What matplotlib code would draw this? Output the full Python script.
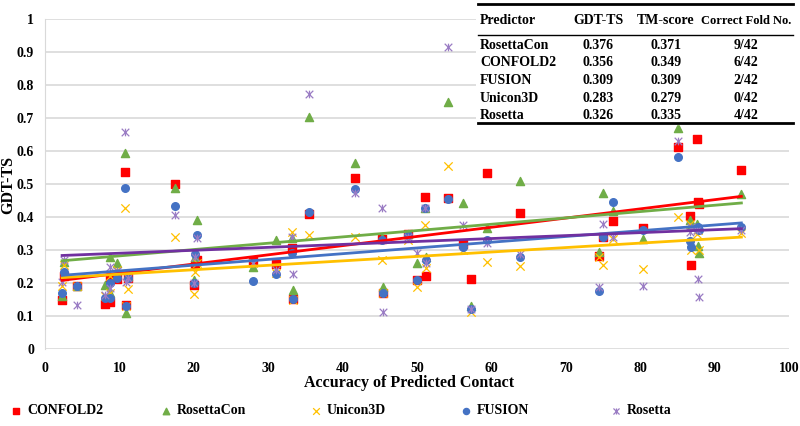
import numpy as np
import matplotlib
matplotlib.use("Agg")
import matplotlib.pyplot as plt
from matplotlib.path import Path

plt.rcParams['font.family'] = ['Liberation Serif', 'DejaVu Serif']
plt.rcParams['font.weight'] = 'bold'

# accuracy of predicted contact (%), one value per target protein
accuracy = [2.3, 2.5, 4.3, 8.0, 8.7, 8.8, 9.7, 10.8, 10.9, 11.2,
            17.5, 20.0, 20.1, 20.4, 27.9, 31.0, 33.2, 33.3, 35.5, 41.7,
            45.3, 45.4, 48.8, 50.0, 51.1, 51.2, 54.1, 56.2, 57.3, 59.4,
            63.9, 74.4, 75.0, 76.4, 80.4, 85.1, 86.7, 86.8, 87.7, 87.8,
            87.9, 93.6]

confold2 = [0.148, 0.222, 0.19, 0.137, 0.215, 0.143, 0.212, 0.535, 0.132, 0.214,
            0.50, 0.194, 0.255, 0.27, 0.268, 0.259, 0.305, 0.152, 0.41, 0.519,
            0.332, 0.169, 0.35, 0.209, 0.462, 0.22, 0.459, 0.317, 0.211, 0.532,
            0.411, 0.282, 0.338, 0.389, 0.366, 0.613, 0.403, 0.255, 0.636, 0.446,
            0.44, 0.542]
rosettacon = [0.16, 0.265, 0.192, 0.194, 0.279, 0.17, 0.26, 0.595, 0.108, 0.22,
              0.487, 0.209, 0.279, 0.391, 0.25, 0.33, 0.335, 0.179, 0.704, 0.565,
              0.335, 0.187, 0.35, 0.26, 0.428, 0.278, 0.749, 0.441, 0.13, 0.366,
              0.51, 0.295, 0.474, 0.419, 0.332, 0.671, 0.391, 0.375, 0.38, 0.312,
              0.292, 0.47]
unicon3d = [0.19, 0.255, 0.19, 0.16, 0.22, 0.17, 0.24, 0.427, 0.13, 0.181,
            0.34, 0.167, 0.232, 0.261, 0.26, 0.23, 0.355, 0.15, 0.345, 0.34,
            0.27, 0.17, 0.33, 0.189, 0.377, 0.245, 0.555, 0.3, 0.113, 0.265,
            0.252, 0.28, 0.256, 0.332, 0.241, 0.40, 0.38, 0.3, 0.35, 0.36,
            0.3, 0.353]
fusion = [0.171, 0.234, 0.19, 0.154, 0.2, 0.154, 0.215, 0.487, 0.13, 0.215,
          0.434, 0.2, 0.288, 0.345, 0.207, 0.227, 0.29, 0.152, 0.416, 0.484,
          0.33, 0.17, 0.345, 0.209, 0.428, 0.27, 0.455, 0.31, 0.12, 0.33,
          0.278, 0.177, 0.34, 0.444, 0.36, 0.581, 0.328, 0.31, 0.368, 0.37,
          0.36, 0.371]
rosetta = [0.204, 0.27, 0.133, 0.164, 0.248, 0.185, 0.237, 0.658, 0.204, 0.215,
           0.405, 0.2, 0.28, 0.335, 0.262, 0.239, 0.34, 0.227, 0.773, 0.474,
           0.426, 0.111, 0.34, 0.29, 0.428, 0.261, 0.916, 0.376, 0.12, 0.32,
           0.288, 0.189, 0.378, 0.34, 0.192, 0.63, 0.355, 0.37, 0.36, 0.211,
           0.158, 0.362]

table_header = ["Predictor", "GDT-TS", "TM-score", "Correct Fold No."]
table_rows = [["RosettaCon", "0.376", "0.371", "9/42"],
              ["CONFOLD2", "0.356", "0.349", "6/42"],
              ["FUSION", "0.309", "0.309", "2/42"],
              ["Unicon3D", "0.283", "0.279", "0/42"],
              ["Rosetta", "0.326", "0.335", "4/42"]]

# excel style "star" marker: an x with a vertical bar
star = Path([(-1, -1), (1, 1), (-1, 1), (1, -1), (0, -1), (0, 1)],
            [Path.MOVETO, Path.LINETO, Path.MOVETO, Path.LINETO, Path.MOVETO, Path.LINETO])

series = [
    ("CONFOLD2", confold2, dict(marker='s', color='#FF0000', s=26), '#FF0000'),
    ("RosettaCon", rosettacon, dict(marker='^', color='#70AD47', s=34), '#70AD47'),
    ("Unicon3D", unicon3d, dict(marker='x', color='#FFC000', s=36, linewidths=0.9), '#FFC000'),
    ("FUSION", fusion, dict(marker='o', color='#4472C4', s=30), '#4472C4'),
    ("Rosetta", rosetta, dict(marker=star, color='#9A7CC4', s=30, linewidths=0.9), '#7030A0'),
]

fig = plt.figure(figsize=(8, 4.26), dpi=100)
ax = fig.add_axes([45/800, 1 - 349/426, 744/800, 330/426])

x = np.array(accuracy)
handles = []
for name, vals, style, lcol in series:
    h = ax.scatter(x, vals, zorder=3, label=name, **style)
    handles.append(h)

# linear trendlines
for name, vals, style, lcol in series:
    k, b = np.polyfit(x, vals, 1)
    xs = np.array([x.min(), x.max()])
    ax.plot(xs, k * xs + b, color=lcol, lw=2, zorder=4)

ax.set_xlim(0, 100)
ax.set_ylim(0, 1)
ax.set_xticks(np.arange(0, 101, 10))
ax.set_yticks(np.arange(0, 1.01, 0.1))
ax.set_yticklabels(["0", "0.1", "0.2", "0.3", "0.4", "0.5", "0.6", "0.7", "0.8", "0.9", "1"])
ax.tick_params(length=0, labelsize=10)
ax.tick_params(axis='x', pad=9)
ax.tick_params(axis='y', pad=8)
ax.grid(axis='y', color='#D9D9D9', lw=1.2)
ax.set_axisbelow(True)
for sp in ['top', 'right', 'bottom']:
    ax.spines[sp].set_visible(False)
ax.spines['left'].set_color('#D9D9D9')

fig.text(409/800, 1 - 383/426, "Accuracy of Predicted Contact", ha='center', va='center', fontsize=11.5)
fig.text(8/800, 1 - 185/426, "GDT-TS", ha='center', va='center', rotation=90, fontsize=11.5)

# legend, one entry every 150 px
for i, h in enumerate(handles):
    fig.legend(handles=[h], loc='center left', bbox_to_anchor=((9 + 150 * i) / 800, 1 - 411/426),
               frameon=False, fontsize=10, handletextpad=0.3, handlelength=1.0,
               markerscale=0.8, borderaxespad=0, borderpad=0)

# summary table in the upper right
tab = fig.add_axes([476/800, 1 - 126/426, 320/800, 125/426])
tab.set_xlim(476, 796)
tab.set_ylim(126, 1)
tab.axis('off')
tab.add_patch(plt.Rectangle((476, 1), 320, 123, color='white', zorder=0))
tab.plot([478, 793], [3.5, 3.5], color='black', lw=2)
tab.plot([478, 793], [35, 35], color='black', lw=1)
tab.plot([478, 793], [122.5, 122.5], color='black', lw=2)
col_x = [480, 598, 666, 746]
col_ha = ['left', 'center', 'center', 'center']
for j, t in enumerate(table_header):
    tab.text(col_x[j], 21, t, ha=col_ha[j], va='center',
             fontsize=10 if j < 3 else 9)
for i, row in enumerate(table_rows):
    yy = 45.5 + 17.5 * i
    for j, t in enumerate(row):
        tab.text(col_x[j], yy, t, ha=col_ha[j], va='center', fontsize=10)

fig.savefig("out.png", dpi=100)
